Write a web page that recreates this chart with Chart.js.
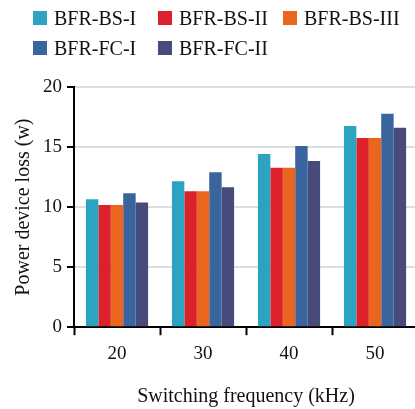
<!DOCTYPE html>
<html>
<head>
<meta charset="utf-8">
<title>Power device loss</title>
<script src="https://cdn.jsdelivr.net/npm/chart.js@4/dist/chart.umd.min.js"></script>
<style>
  html, body { margin: 0; padding: 0; background: #fff; }
  #wrap { position: relative; width: 415px; height: 409px; overflow: hidden; }
  #chart-box { position: absolute; left: 0; top: 0; width: 418px; height: 409px; }
  #legend {
    position: absolute; left: 33px; top: 3px;
    display: grid; grid-template-columns: 125px 125px 125px;
    font-family: "Liberation Serif", "Times New Roman", serif; font-size: 20px;
    line-height: 30px; color: #111;
  }
  #legend .item { display: flex; align-items: center; white-space: nowrap; }
  #legend .swatch { width: 14px; height: 14px; margin-right: 7px; flex: none; }
</style>
</head>
<body>
<div id="wrap">
  <div id="chart-box"><canvas id="loss-chart"></canvas></div>
  <div id="legend"></div>
</div>
<script>
  // switching frequencies (kHz)
  const frequencies = ['20', '30', '40', '50'];

  // power device loss (W) for each converter
  const bfrBsI   = [10.65, 12.15, 14.42, 16.76];
  const bfrBsII  = [10.17, 11.32, 13.27, 15.76];
  const bfrBsIII = [10.17, 11.32, 13.27, 15.76];
  const bfrFcI   = [11.15, 12.91, 15.09, 17.77];
  const bfrFcII  = [10.39, 11.65, 13.83, 16.60];

  const seriesNames = ['BFR-BS-I', 'BFR-BS-II', 'BFR-BS-III', 'BFR-FC-I', 'BFR-FC-II'];
  const seriesColors = ['#2ca3c0', '#dc202c', '#ea661e', '#39649e', '#464b7a'];
  const yTicks = [0, 5, 10, 15, 20];

  const font = "'Liberation Serif', 'Times New Roman', serif";
  const values = [bfrBsI, bfrBsII, bfrBsIII, bfrFcI, bfrFcII];

  const ctx = document.getElementById('loss-chart').getContext('2d');

  const chart = new Chart(ctx, {
    type: 'bar',
    data: {
      labels: frequencies,
      datasets: values.map((v, i) => ({
        label: seriesNames[i],
        data: v,
        backgroundColor: seriesColors[i],
        borderWidth: 0,
        barPercentage: 1,
        categoryPercentage: 0.723
      }))
    },
    options: {
      responsive: true,
      maintainAspectRatio: false,
      animation: false,
      layout: { padding: { top: 87, left: 7, right: 0, bottom: 0 } },
      plugins: {
        legend: { display: false },
        tooltip: { enabled: false }
      },
      scales: {
        x: {
          offset: true,
          grid: {
            offset: true,
            drawOnChartArea: false,
            drawTicks: true,
            tickLength: 8,
            tickColor: '#000',
            tickWidth: 2
          },
          border: { color: '#000', width: 2 },
          ticks: { color: '#111', font: { family: font, size: 19 }, padding: 7 },
          title: {
            display: true,
            text: 'Switching frequency (kHz)',
            color: '#111',
            font: { family: font, size: 20 },
            padding: { top: 13, bottom: 0 }
          }
        },
        y: {
          min: 0,
          max: 20,
          afterBuildTicks: (axis) => { axis.ticks = yTicks.map(v => ({ value: v })); },
          grid: {
            color: '#dedede',
            lineWidth: 2,
            drawTicks: true,
            tickLength: 7,
            tickColor: '#000',
            tickWidth: 2
          },
          border: { color: '#000', width: 2 },
          ticks: { color: '#111', font: { family: font, size: 19 }, padding: 5 },
          title: {
            display: true,
            text: 'Power device loss (w)',
            color: '#111',
            font: { family: font, size: 20 },
            padding: { top: 5, bottom: 2 }
          }
        }
      }
    }
  });

  // legend laid out in three columns
  const legend = document.getElementById('legend');
  seriesNames.forEach((name, i) => {
    const item = document.createElement('div');
    item.className = 'item';
    item.innerHTML = `<span class="swatch" style="background:${seriesColors[i]}"></span>${name}`;
    legend.appendChild(item);
  });
</script>
</body>
</html>
